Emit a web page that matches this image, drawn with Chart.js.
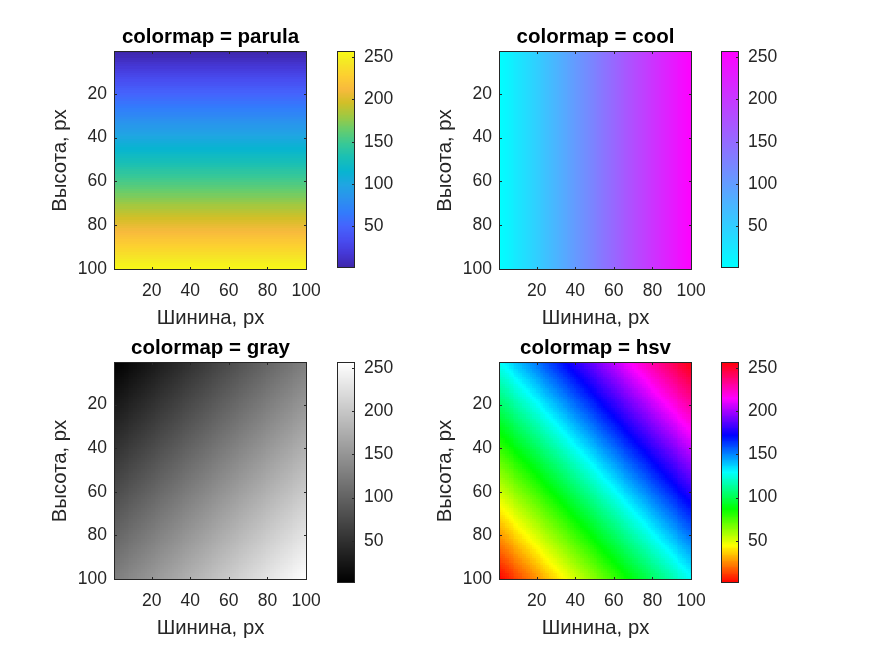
<!DOCTYPE html>
<html>
<head>
<meta charset="utf-8">
<script src="https://cdn.jsdelivr.net/npm/chart.js@4.4.0/dist/chart.umd.min.js"></script>
<style>
  html, body { margin: 0; padding: 0; background: #fff; }
  #fig { position: relative; width: 875px; height: 656px; overflow: hidden; background: #fff; }
  #fig canvas { position: absolute; }
</style>
</head>
<body>
<div id="fig"></div>
<script>
// --- data ---

// value of the test image for pixel index 1..100 (rows for "parula", columns for "cool";
// the gray and hsv images mix the row and column ramps)
const pixelRamp = [
  1, 4, 6, 9, 11, 14, 16, 19, 22, 24,
  27, 29, 32, 34, 37, 39, 42, 45, 47, 50,
  52, 55, 57, 60, 63, 65, 68, 70, 73, 75,
  78, 81, 83, 86, 88, 91, 93, 96, 98, 101,
  104, 106, 109, 111, 114, 116, 119, 122, 124, 127,
  129, 132, 134, 137, 140, 142, 145, 147, 150, 152,
  155, 158, 160, 163, 165, 168, 170, 173, 175, 178,
  181, 183, 186, 188, 191, 193, 196, 199, 201, 204,
  206, 209, 211, 214, 217, 219, 222, 224, 227, 229,
  232, 234, 237, 240, 242, 245, 247, 250, 252, 255
];
const axisTicks = [20, 40, 60, 80, 100];
const colorbarTicks = [50, 100, 150, 200, 250];
const colorbarRange = [1, 257];
const colormapNames = ['parula', 'cool', 'gray', 'hsv'];
const imageMix = ['row', 'col', 'sum', 'diff'];
const xLabel = 'Шинина, px';
const yLabel = 'Высота, px';

// parula anchors (every 4th entry of the 64-colour table)
const parulaAnchors = [
  [0.2422, 0.1504, 0.6603], [0.2706, 0.2147, 0.8364], [0.2813, 0.3006, 0.9414],
  [0.2699, 0.3892, 0.9906], [0.1963, 0.4847, 0.9892], [0.1687, 0.5703, 0.9359],
  [0.1248, 0.6459, 0.8883], [0.0297, 0.7082, 0.8163], [0.0964, 0.7500, 0.7120],
  [0.2161, 0.7843, 0.5923], [0.3909, 0.8029, 0.4354], [0.6174, 0.7876, 0.2612],
  [0.8203, 0.7498, 0.1535], [0.9728, 0.7298, 0.2394], [0.9892, 0.8136, 0.1885],
  [0.9597, 0.9135, 0.1423], [0.9769, 0.9839, 0.0805]
];
const parulaPos = [0, 4, 8, 12, 16, 20, 24, 28, 32, 36, 40, 44, 48, 52, 56, 60, 63];

// --- colormaps ---

function parula(t) {
  const p = t * 63;
  let i = 0;
  while (i < parulaPos.length - 2 && parulaPos[i + 1] < p) i++;
  const f = (p - parulaPos[i]) / (parulaPos[i + 1] - parulaPos[i]);
  const a = parulaAnchors[i], b = parulaAnchors[i + 1];
  return [0, 1, 2].map(k => a[k] + (b[k] - a[k]) * f);
}

function hsvColor(t) {
  const h = t * 255 / 256 * 6;
  const i = Math.floor(h) % 6;
  const f = h - Math.floor(h);
  return [[1, f, 0], [1 - f, 1, 0], [0, 1, f], [0, 1 - f, 1], [f, 0, 1], [1, 0, 1 - f]][i];
}

const colormaps = {
  parula: parula,
  cool: t => [t, 1 - t, 1],
  gray: t => [t, t, t],
  hsv: hsvColor
};

function colorFor(cmapName, v) {
  const idx = Math.min(256, Math.max(1, Math.floor(v)));
  const rgb = colormaps[cmapName]((idx - 1) / 255);
  return 'rgb(' + rgb.map(c => Math.round(c * 255)).join(',') + ')';
}

function imageValue(mix, r, c) {
  const vr = pixelRamp[r - 1], vc = pixelRamp[c - 1];
  if (mix === 'row') return vr;
  if (mix === 'col') return vc;
  if (mix === 'sum') return (vr + vc) / 2;
  return (vc + 256 - vr) / 2;
}

// --- plugins ---

// paints every data point as a cell of width/height 1 in data units
const cellPaint = {
  id: 'cellPaint',
  beforeDatasetsDraw(chart, args, opts) {
    if (!opts.cmap) return;
    const { ctx, scales: { x, y } } = chart;
    ctx.save();
    chart.data.datasets[0].data.forEach(p => {
      const x0 = Math.round(x.getPixelForValue(p.x - 0.5));
      const x1 = Math.round(x.getPixelForValue(p.x + 0.5));
      const ya = Math.round(y.getPixelForValue(p.y - 0.5));
      const yb = Math.round(y.getPixelForValue(p.y + 0.5));
      ctx.fillStyle = colorFor(opts.cmap, p.v);
      ctx.fillRect(Math.min(x0, x1), Math.min(ya, yb), Math.abs(x1 - x0), Math.abs(yb - ya));
    });
    ctx.restore();
  }
};

// MATLAB-like box with inward tick marks
const axesFrame = {
  id: 'axesFrame',
  afterDraw(chart, args, opts) {
    const { ctx, chartArea: a, scales } = chart;
    const len = 3;
    ctx.save();
    ctx.strokeStyle = '#262626';
    ctx.lineWidth = 1;
    ctx.beginPath();
    if (opts.xTicks) {
      scales.x.ticks.forEach(t => {
        const px = Math.round(scales.x.getPixelForValue(t.value)) + 0.5;
        ctx.moveTo(px, a.bottom); ctx.lineTo(px, a.bottom - len);
        ctx.moveTo(px, a.top); ctx.lineTo(px, a.top + len);
      });
    }
    scales.y.ticks.forEach(t => {
      const py = Math.round(scales.y.getPixelForValue(t.value)) + 0.5;
      if (opts.yLeft) { ctx.moveTo(a.left, py); ctx.lineTo(a.left + len, py); }
      ctx.moveTo(a.right, py); ctx.lineTo(a.right - len, py);
    });
    ctx.stroke();
    ctx.strokeRect(Math.round(a.left) + 0.5, Math.round(a.top) + 0.5,
      Math.round(a.right - a.left) - 1, Math.round(a.bottom - a.top) - 1);
    ctx.restore();
  }
};

// title and axis labels
const panelText = {
  id: 'panelText',
  afterDraw(chart, args, opts) {
    if (!opts.title) return;
    const { ctx, chartArea: a } = chart;
    const cx = (a.left + a.right) / 2;
    const cy = (a.top + a.bottom) / 2;
    ctx.save();
    ctx.textAlign = 'center';
    ctx.textBaseline = 'alphabetic';
    ctx.fillStyle = '#000';
    ctx.font = 'bold 20.5px "Liberation Sans", Arial, sans-serif';
    ctx.fillText(opts.title, cx, a.top - 8);
    ctx.fillStyle = '#262626';
    ctx.font = '20.3px "Liberation Sans", Arial, sans-serif';
    ctx.fillText(xLabel, cx, a.bottom + 54);
    ctx.translate(a.left - 48, cy);
    ctx.rotate(-Math.PI / 2);
    ctx.fillText(yLabel, 0, 0);
    ctx.restore();
  }
};

Chart.register(cellPaint, axesFrame, panelText);
Chart.defaults.font.family = '"Liberation Sans", Arial, sans-serif';
Chart.defaults.color = '#262626';

// --- layout ---
const imageBoxes = [
  { left: 114, top: 51, width: 193, height: 219 },
  { left: 499, top: 51, width: 193, height: 219 },
  { left: 114, top: 362, width: 193, height: 218 },
  { left: 499, top: 362, width: 193, height: 218 }
];
const barBoxes = [
  { left: 337, top: 51, width: 18, height: 217 },
  { left: 721, top: 51, width: 18, height: 217 },
  { left: 337, top: 362, width: 18, height: 221 },
  { left: 721, top: 362, width: 18, height: 221 }
];

const fig = document.getElementById('fig');

function addCanvas(left, top, width, height) {
  const cv = document.createElement('canvas');
  cv.width = width; cv.height = height;
  cv.style.left = left + 'px'; cv.style.top = top + 'px';
  cv.style.width = width + 'px'; cv.style.height = height + 'px';
  fig.appendChild(cv);
  return cv;
}

function fixedTicks(values) {
  return scale => { scale.ticks = values.map(v => ({ value: v })); };
}

function fixSize(prop, size) {
  return s => {
    s[prop] = size;
    s.paddingTop = 0; s.paddingBottom = 0; s.paddingLeft = 0; s.paddingRight = 0;
  };
}

const tickFont = { size: 17.5 };

colormapNames.forEach((name, i) => {
  // image axes
  const b = imageBoxes[i];
  const padL = 110, padT = 45, padR = 30, padB = 70;
  const cv = addCanvas(b.left - padL, b.top - padT, padL + b.width + padR, padT + b.height + padB);
  const cells = [];
  for (let r = 1; r <= 100; r++) {
    for (let c = 1; c <= 100; c++) {
      cells.push({ x: c, y: r, v: imageValue(imageMix[i], r, c) });
    }
  }
  new Chart(cv, {
    type: 'scatter',
    data: { datasets: [{ data: cells, pointRadius: 0, pointHoverRadius: 0 }] },
    options: {
      responsive: false,
      animation: false,
      events: [],
      layout: { padding: { left: 0, top: padT, right: padR, bottom: 0 } },
      plugins: {
        legend: { display: false },
        tooltip: { enabled: false },
        cellPaint: { cmap: name },
        axesFrame: { xTicks: true, yLeft: true },
        panelText: { title: 'colormap = ' + name }
      },
      scales: {
        x: {
          type: 'linear', min: 0.5, max: 100.5,
          grid: { display: false, drawTicks: false }, border: { display: false },
          afterBuildTicks: fixedTicks(axisTicks),
          afterFit: fixSize('height', padB),
          ticks: { padding: 11, font: tickFont, color: '#262626', maxRotation: 0, autoSkip: false }
        },
        y: {
          type: 'linear', reverse: true, min: 0.5, max: 100.5,
          grid: { display: false, drawTicks: false }, border: { display: false },
          afterBuildTicks: fixedTicks(axisTicks),
          afterFit: fixSize('width', padL),
          ticks: { padding: 7, font: tickFont, color: '#262626', autoSkip: false }
        }
      }
    }
  });

  // colorbar
  const cb = barBoxes[i];
  const cpL = 5, cpT = 15, cpR = 60, cpB = 15;
  const cbv = addCanvas(cb.left - cpL, cb.top - cpT, cpL + cb.width + cpR, cpT + cb.height + cpB);
  const levels = [];
  for (let lv = colorbarRange[0]; lv < colorbarRange[1]; lv++) {
    levels.push({ x: 0.5, y: lv + 0.5, v: lv });
  }
  new Chart(cbv, {
    type: 'scatter',
    data: { datasets: [{ data: levels, pointRadius: 0, pointHoverRadius: 0 }] },
    options: {
      responsive: false,
      animation: false,
      events: [],
      layout: { padding: { left: cpL, top: cpT, right: 0, bottom: cpB } },
      plugins: {
        legend: { display: false },
        tooltip: { enabled: false },
        cellPaint: { cmap: name },
        axesFrame: { xTicks: false, yLeft: false },
        panelText: {}
      },
      scales: {
        x: { type: 'linear', min: 0, max: 1, display: false },
        y: {
          type: 'linear', position: 'right', min: colorbarRange[0], max: colorbarRange[1],
          grid: { display: false, drawTicks: false }, border: { display: false },
          afterBuildTicks: fixedTicks(colorbarTicks),
          afterFit: fixSize('width', cpR),
          ticks: { padding: 9, font: tickFont, color: '#262626', autoSkip: false }
        }
      }
    }
  });
});
</script>
</body>
</html>
